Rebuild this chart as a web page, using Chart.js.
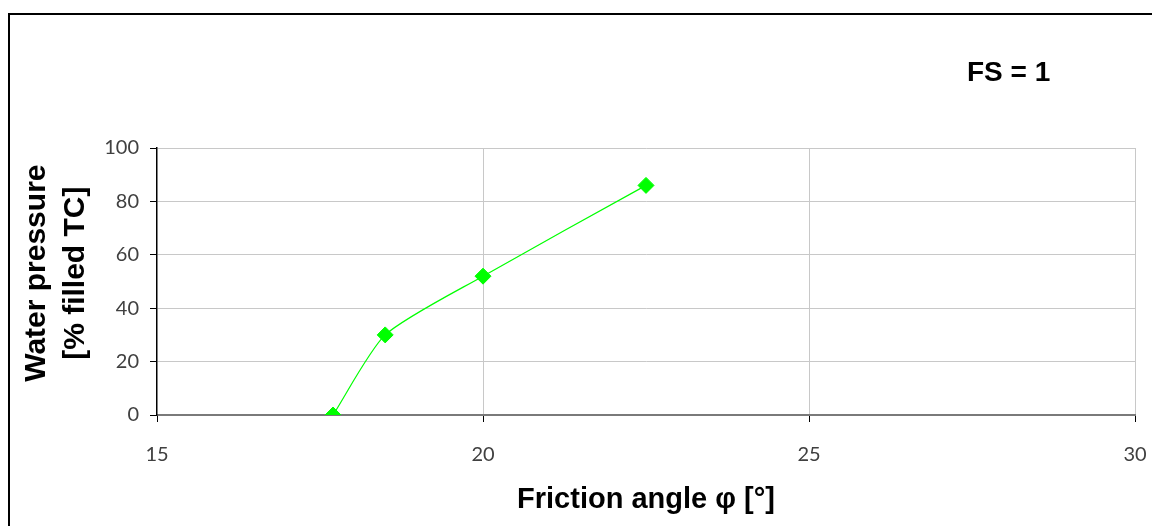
<!DOCTYPE html>
<html>
<head>
<meta charset="utf-8">
<script src="https://cdn.jsdelivr.net/npm/chart.js@4"></script>
<style>
  html, body { margin: 0; padding: 0; background: #fff; }
  #wrap { width: 1152px; height: 526px; position: relative; }
</style>
</head>
<body>
<div id="wrap"><canvas id="chart-fs" width="1152" height="526"></canvas></div>
<script>
var phi = [17.7, 18.5, 20, 22.5]          // friction angle [deg]
var pressure = [0, 30, 52, 86]            // water pressure [% filled TC]
var caseLabel = "FS = 1"

// outer frame + case label in the top right corner
var framePlugin = {
	id: "frame",
	afterDraw: function(chart) {
		var ctx = chart.ctx
		var area = chart.chartArea
		ctx.save()
		ctx.strokeStyle = "#000"
		ctx.lineWidth = 2
		ctx.beginPath()
		ctx.moveTo(9, chart.height)
		ctx.lineTo(9, 14)
		ctx.lineTo(chart.width, 14)
		ctx.stroke()

		ctx.fillStyle = "#000"
		ctx.font = "bold 28px 'Liberation Sans', Arial, sans-serif"
		ctx.textAlign = "left"
		ctx.textBaseline = "alphabetic"
		ctx.fillText(caseLabel, area.right - 168, area.top - 67)
		ctx.restore()
	}
}

var tickFont = { family: "Lato, 'Open Sans', sans-serif", size: 20 }

var ctxFs = document.getElementById("chart-fs").getContext("2d")
var chartFs = new Chart(ctxFs, {
	type: "scatter",
	data: {
		datasets: [
		{
			data: phi.map(function(v, i) { return { x: v, y: pressure[i] } }),
			showLine: true,
			borderColor: "#00ff00",
			borderWidth: 1.2,
			tension: 0.22,
			pointStyle: "rectRot",
			pointRadius: 8,
			pointBackgroundColor: "#00ff00",
			pointBorderColor: "#00ff00",
			pointBorderWidth: 1
		}
		]
	},
	options: {
		responsive: false,
		animation: false,
		devicePixelRatio: 1,
		layout: { padding: { top: 148, right: 17, left: 0, bottom: 0 } },
		plugins: {
			legend: { display: false },
			tooltip: { enabled: false }
		},
		scales: {
			x: {
				type: "linear",
				min: 15,
				max: 30,
				ticks: { stepSize: 5, color: "#404040", font: tickFont, padding: 21 },
				grid: {
					color: function(c) { return c.tick && c.tick.value === 15 ? "rgba(0,0,0,0)" : "#c8c8c8" },
					lineWidth: 1,
					tickColor: "#000",
					tickLength: 7
				},
				border: { color: "#7a7a7a", width: 2 },
				title: {
					display: true,
					text: "Friction angle φ [°]",
					color: "#000",
					font: { family: "'Liberation Sans', Arial, sans-serif", size: 29, weight: "bold" },
					padding: { top: 0, bottom: 9 }
				},
				afterFit: function(scale) {
					scale.height = 111
					scale.paddingRight = 0
					scale.paddingLeft = 0
				}
			},
			y: {
				min: 0,
				max: 100,
				ticks: {
					stepSize: 10,
					color: "#404040",
					font: tickFont,
					padding: 11,
					callback: function(v) { return v % 20 === 0 ? v : "" }
				},
				grid: {
					color: function(c) { return c.tick && c.tick.value % 20 === 0 && c.tick.value > 0 ? "#c8c8c8" : "rgba(0,0,0,0)" },
					lineWidth: 1,
					tickColor: "#000",
					tickLength: 7
				},
				border: { color: "#000", width: 1.5 },
				title: {
					display: true,
					text: ["  Water pressure", "  [% filled TC]"],
					color: "#000",
					font: { family: "'Liberation Sans', Arial, sans-serif", size: 30, weight: "bold", lineHeight: 1.3 },
					padding: { top: 17, bottom: 0 }
				},
				afterFit: function(scale) { scale.width = 157 }
			}
		}
	},
	plugins: [framePlugin]
})
</script>
</body>
</html>
